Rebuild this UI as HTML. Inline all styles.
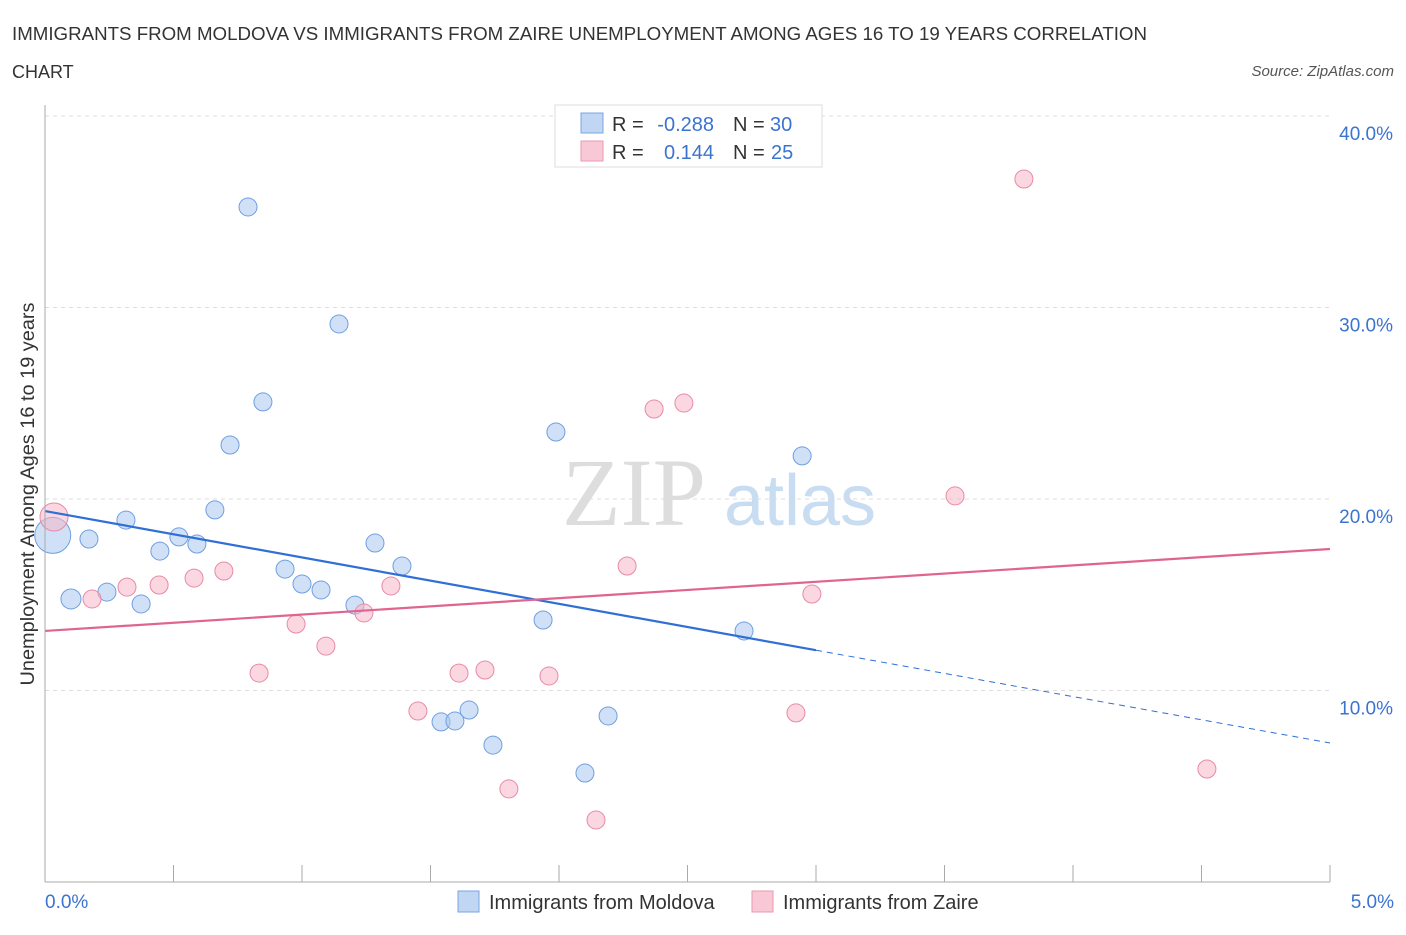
<!DOCTYPE html>
<html><head><meta charset="utf-8"><style>
body{margin:0;background:#fff;font-family:"Liberation Sans",sans-serif;}
</style></head><body>
<svg id="c" width="1406" height="930" xmlns="http://www.w3.org/2000/svg">
<text x="12" y="40" font-size="18" fill="#333" textLength="1135" lengthAdjust="spacingAndGlyphs">IMMIGRANTS FROM MOLDOVA VS IMMIGRANTS FROM ZAIRE UNEMPLOYMENT AMONG AGES 16 TO 19 YEARS CORRELATION</text>
<text x="12" y="78" font-size="18" fill="#333">CHART</text>
<text x="1394" y="76" font-size="15" font-style="italic" fill="#555" text-anchor="end">Source: ZipAtlas.com</text>
<text x="634" y="525" font-size="96" font-family="Liberation Serif" fill="#ddd" text-anchor="middle">ZIP</text>
<text x="800" y="525" font-size="72" fill="#c8dcf2" text-anchor="middle">atlas</text>
<g id="grid"></g><g id="marks"></g>
<line x1="45" y1="105" x2="45" y2="882" stroke="#aaa"/>
<line x1="45" y1="882" x2="1330" y2="882" stroke="#aaa"/>
<text x="34" y="494" font-size="19" fill="#333" text-anchor="middle" textLength="383" lengthAdjust="spacingAndGlyphs" transform="rotate(-90 34 494)">Unemployment Among Ages 16 to 19 years</text>
<text x="45" y="908" font-size="19" fill="#3b73d1">0.0%</text>
<text x="1394" y="908" font-size="19" fill="#3b73d1" text-anchor="end">5.0%</text>
<g>
<rect x="555" y="105" width="267" height="62" fill="#fff" stroke="#ddd"/>
<rect x="581" y="113" width="22" height="20" fill="#c0d6f3" stroke="#7aa6e0"/>
<rect x="581" y="141" width="22" height="20" fill="#f8c8d6" stroke="#e89ab2"/>
<text x="612" y="131" font-size="20" fill="#333">R =</text>
<text x="714" y="131" font-size="20" fill="#3b73d1" text-anchor="end">-0.288</text>
<text x="733" y="131" font-size="20" fill="#333">N =</text>
<text x="770" y="131" font-size="20" fill="#3b73d1">30</text>
<text x="612" y="159" font-size="20" fill="#333">R =</text>
<text x="714" y="159" font-size="20" fill="#3b73d1" text-anchor="end">0.144</text>
<text x="733" y="159" font-size="20" fill="#333">N =</text>
<text x="771" y="159" font-size="20" fill="#3b73d1">25</text>
</g>
<g>
<rect x="458" y="891" width="21" height="21" fill="#c0d6f3" stroke="#7aa6e0"/>
<text x="489" y="909" font-size="20" fill="#333">Immigrants from Moldova</text>
<rect x="752" y="891" width="21" height="21" fill="#f8c8d6" stroke="#e89ab2"/>
<text x="783" y="909" font-size="20" fill="#333">Immigrants from Zaire</text>
</g>
</svg>
<script>
const yTicks=[10,20,30,40];
const xTicks=[0,0.5,1,1.5,2,2.5,3,3.5,4,4.5,5];
const moldovaX=[0.030,0.101,0.171,0.241,0.315,0.374,0.447,0.521,0.591,0.661,0.720,0.790,0.848,0.934,1.000,1.074,1.144,1.206,1.284,1.389,1.541,1.595,1.650,1.743,1.938,1.988,2.101,2.191,2.720,2.946];
const moldovaY=[18.1,14.78,17.91,15.14,18.90,14.52,17.28,18.02,17.65,19.43,22.82,35.25,25.07,16.34,15.56,15.25,29.14,14.46,17.70,16.50,8.36,8.41,8.98,7.15,13.68,23.50,5.69,8.67,13.11,22.25];
const moldovaR=[18,10,9,9,9,9,9,9,9,9,9,9,9,9,9,9,9,9,9,9,9,9,9,9,9,9,9,9,9,9];
const zaireX=[0.035,0.183,0.319,0.444,0.580,0.696,0.833,0.977,1.093,1.241,1.346,1.451,1.611,1.712,1.805,1.961,2.144,2.265,2.370,2.486,2.922,2.984,3.541,3.809,4.521];
const zaireY=[19.06,14.78,15.40,15.51,15.87,16.24,10.91,13.47,12.32,14.05,15.46,8.93,10.91,11.07,4.86,10.76,3.24,16.50,24.70,25.01,8.83,15.04,20.16,36.71,5.90];
const zaireR=[14,9,9,9,9,9,9,9,9,9,9,9,9,9,9,9,9,9,9,9,9,9,9,9,9];
const moldovaTrend=[19.37,7.26];
const moldovaSolidEnd=3.0;
const zaireTrend=[13.11,17.39];
const X=v=>45+v*257, Y=v=>882-v*19.15;
const NS='http://www.w3.org/2000/svg';
const grid=document.getElementById('grid'), marks=document.getElementById('marks');
function mk(tag,at,par){const e=document.createElementNS(NS,tag);for(const k in at)e.setAttribute(k,at[k]);par.appendChild(e);return e;}
yTicks.forEach(t=>{
 const l=mk('line',{x1:45,x2:1330,y1:Y(t),y2:Y(t),stroke:'#ddd','stroke-dasharray':'4,4'},grid);
 
 
 const tx=mk('text',{x:1393,y:Y(t)+24,'font-size':19,fill:'#3b73d1','text-anchor':'end'},grid);
 tx.textContent=t.toFixed(1)+'%';
 
 
});
xTicks.forEach(t=>{
 const l=mk('line',{x1:X(t),x2:X(t),y1:865,y2:882,stroke:'#aaa'},grid);
 
 
});
moldovaX.forEach((v,i)=>{
 const c=mk('circle',{cx:X(v),cy:Y(moldovaY[i]),r:moldovaR[i],fill:'rgba(169,200,240,0.55)',stroke:'#6f9fe0','stroke-width':1},marks);
 
 
});
zaireX.forEach((v,i)=>{
 const c=mk('circle',{cx:X(v),cy:Y(zaireY[i]),r:zaireR[i],fill:'rgba(245,182,200,0.55)',stroke:'#e88aa6','stroke-width':1},marks);
 
 
});
const my=x=>moldovaTrend[0]+(moldovaTrend[1]-moldovaTrend[0])*x/5;
const t1=mk('line',{x1:X(0),y1:Y(my(0)),x2:X(moldovaSolidEnd),y2:Y(my(moldovaSolidEnd)),stroke:'#2f6fd6','stroke-width':2.2},marks);


const t2=mk('line',{x1:X(moldovaSolidEnd),y1:Y(my(moldovaSolidEnd)),x2:X(5),y2:Y(my(5)),stroke:'#2f6fd6','stroke-width':1,'stroke-dasharray':'6,5'},marks);


const t3=mk('line',{x1:X(0),y1:Y(zaireTrend[0]),x2:X(5),y2:Y(zaireTrend[1]),stroke:'#e0648f','stroke-width':2.2},marks);


</script>
</body></html>
